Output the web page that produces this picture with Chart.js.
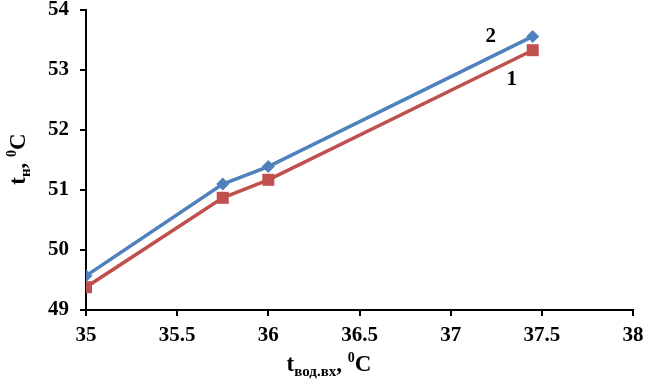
<!DOCTYPE html>
<html lang="ru">
<head>
  <meta charset="UTF-8">
  <title>t_н от t_вод.вх</title>
  <script src="https://cdn.jsdelivr.net/npm/chart.js"></script>
  <style>
    body { margin: 0; background: #fff; }
    canvas { display: block; }
  </style>
</head>
<body>
<canvas id="chart" width="650" height="381"></canvas>
<script>
  // данные
  const tIn = [35, 35.75, 36, 37.45];
  const series1 = [49.38, 50.87, 51.17, 53.33];   // кривая 1
  const series2 = [49.57, 51.1, 51.39, 53.56];    // кривая 2
  const curveLabels = ['1', '2'];

  const BLUE = '#4f81bd';
  const RED = '#c0504d';
  const FONT = 'Liberation Serif, Times New Roman, serif';

  const pts = ys => tIn.map((x, i) => ({ x: x, y: ys[i] }));

  // подписи осей с индексами и подписи кривых
  const annotate = {
    id: 'annotate',
    afterDraw(chart) {
      const ctx = chart.ctx;
      const parts = (pieces, cx, cy) => {
        let w = 0;
        pieces.forEach(p => { ctx.font = 'bold ' + p.size + 'px ' + FONT; p.w = ctx.measureText(p.t).width; w += p.w; });
        let x = cx - w / 2;
        ctx.textBaseline = 'alphabetic';
        ctx.textAlign = 'left';
        pieces.forEach(p => {
          ctx.font = 'bold ' + p.size + 'px ' + FONT;
          ctx.fillText(p.t, x, cy + (p.dy || 0));
          x += p.w;
        });
      };
      ctx.save();
      ctx.fillStyle = '#000';
      // ось X
      parts([
        { t: 't', size: 23 },
        { t: 'вод.вх', size: 15, dy: 5 },
        { t: ', ', size: 23 },
        { t: '0', size: 14, dy: -9 },
        { t: 'C', size: 23 }
      ], 329, 371);
      // ось Y
      ctx.save();
      ctx.translate(25, 159);
      ctx.rotate(-Math.PI / 2);
      parts([
        { t: 't', size: 23 },
        { t: 'н', size: 15, dy: 5 },
        { t: ', ', size: 23 },
        { t: '0', size: 14, dy: -9 },
        { t: 'C', size: 23 }
      ], 0, 0);
      ctx.restore();
      // номера кривых
      const xs = chart.scales.x, ys = chart.scales.y;
      const n = tIn.length - 1;
      ctx.font = 'bold 21px ' + FONT;
      ctx.textAlign = 'center';
      ctx.textBaseline = 'middle';
      ctx.fillText(curveLabels[0], xs.getPixelForValue(tIn[n]) - 21, ys.getPixelForValue(series1[n]) + 29);
      ctx.fillText(curveLabels[1], xs.getPixelForValue(tIn[n]) - 42, ys.getPixelForValue(series2[n]));
      ctx.restore();
    }
  };

  const axisStyle = {
    border: { display: true, color: '#000', width: 2 },
    grid: { drawOnChartArea: false, drawTicks: true, tickLength: 6, color: '#000', lineWidth: 2 },
    ticks: { color: '#000', font: { family: FONT, weight: 'bold', size: 21 }, callback: v => String(v) }
  };

  new Chart(document.getElementById('chart'), {
    type: 'line',
    data: {
      datasets: [
        {
          label: '1',
          data: pts(series1),
          borderColor: RED,
          backgroundColor: RED,
          borderWidth: 3.5,
          pointStyle: 'rect',
          pointRadius: 8.5,
          pointBorderWidth: 0,
          tension: 0
        },
        {
          label: '2',
          data: pts(series2),
          borderColor: BLUE,
          backgroundColor: BLUE,
          borderWidth: 3.5,
          pointStyle: 'rectRot',
          pointRadius: 6.5,
          pointBorderWidth: 0,
          tension: 0
        }
      ]
    },
    options: {
      responsive: false,
      animation: false,
      layout: { padding: { top: 10, right: 17, left: 0, bottom: 0 } },
      plugins: { legend: { display: false }, tooltip: { enabled: false } },
      scales: {
        x: Object.assign({}, axisStyle, {
          type: 'linear', min: 35, max: 38,
          ticks: Object.assign({}, axisStyle.ticks, { stepSize: 0.5, padding: 7, maxRotation: 0 }),
          afterFit: s => { s.height = 71; s.paddingLeft = 0; s.paddingRight = 0; }
        }),
        y: Object.assign({}, axisStyle, {
          min: 49, max: 54,
          ticks: Object.assign({}, axisStyle.ticks, { stepSize: 1, padding: 11 }),
          afterFit: s => { s.width = 86; s.paddingTop = 0; s.paddingBottom = 0; }
        })
      }
    },
    plugins: [annotate]
  });
</script>
</body>
</html>
